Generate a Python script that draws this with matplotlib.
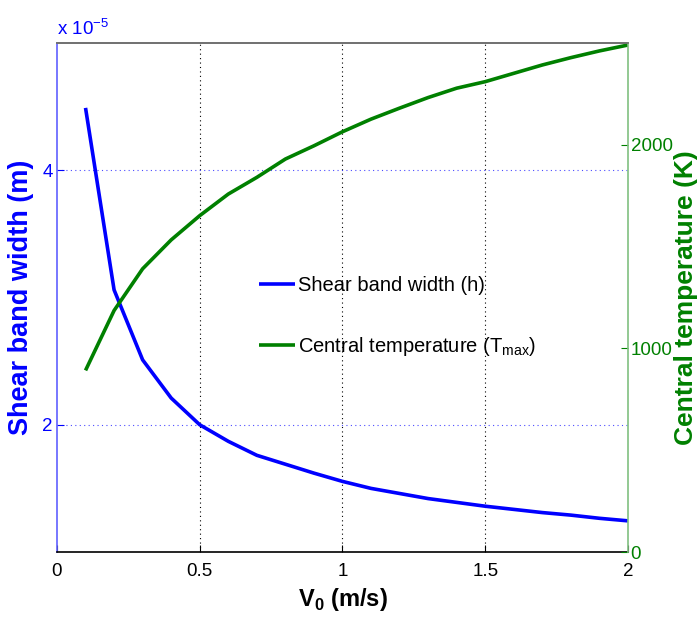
import numpy as np
import matplotlib.pyplot as plt

plt.rcParams['font.family'] = ['Liberation Sans', 'DejaVu Sans']
plt.rcParams['mathtext.fontset'] = 'custom'
plt.rcParams['mathtext.rm'] = 'Liberation Sans'
plt.rcParams['mathtext.bf'] = 'Liberation Sans:bold'

# impact velocity (m/s)
v0 = [0.1, 0.2, 0.3, 0.4, 0.5, 0.6, 0.7, 0.8, 0.9, 1.0,
      1.1, 1.2, 1.3, 1.4, 1.5, 1.6, 1.7, 1.8, 1.9, 2.0]
# shear band width (m)
h = [4.49e-5, 3.06e-5, 2.51e-5, 2.21e-5, 2.00e-5, 1.87e-5, 1.76e-5, 1.69e-5, 1.62e-5, 1.555e-5,
     1.50e-5, 1.46e-5, 1.42e-5, 1.39e-5, 1.36e-5, 1.335e-5, 1.31e-5, 1.29e-5, 1.265e-5, 1.245e-5]
# central temperature (K)
tmax = [892, 1186, 1391, 1533, 1652, 1758, 1840, 1930, 1995, 2064,
        2126, 2180, 2232, 2278, 2310, 2351, 2392, 2428, 2461, 2490]

h_ticks = [2, 4]
t_ticks = [0, 1000, 2000]
x_ticks = [0, 0.5, 1, 1.5, 2]

blue = '#0000ff'
green = '#008000'

fig = plt.figure(figsize=(7, 6.22), dpi=100)
ax1 = fig.add_axes([0.0814, 0.1125, 0.8157, 0.8184])
ax2 = ax1.twinx()

h_scaled = np.array(h) / 1e-5
l1, = ax1.plot(v0, h_scaled, color=blue, lw=2.6, solid_capstyle='butt')
l2, = ax2.plot(v0, tmax, color=green, lw=2.6, solid_capstyle='butt')

ax1.set_xlim(0, 2)
ax1.set_ylim(1, 5)
ax2.set_ylim(0, 2500)

ax1.set_xticks(x_ticks)
ax1.set_xticklabels(['0', '0.5', '1', '1.5', '2'])
ax1.set_yticks(h_ticks)
ax2.set_yticks(t_ticks)

# dotted grid: black verticals, blue horizontals
for xv in x_ticks[1:-1]:
    ax1.axvline(xv, color='black', ls=(0, (1, 3)), lw=0.8, zorder=0)
for yv in h_ticks:
    ax1.axhline(yv, color=blue, ls=(0, (1, 3)), lw=0.8, alpha=0.7, zorder=0)

ax1.tick_params(axis='x', direction='in', length=5, labelsize=13.5, colors='black', pad=8)
ax1.tick_params(axis='y', direction='in', length=5, labelsize=13.5, colors=blue, pad=3)
ax2.tick_params(axis='y', direction='in', length=5, labelsize=13.5, colors=green, pad=2)

ax1.spines['left'].set_color('#6060ff')
ax1.spines['bottom'].set_color('black')
ax1.spines['top'].set_color('#707070')
ax1.spines['right'].set_visible(False)
ax2.spines['left'].set_visible(False)
ax2.spines['bottom'].set_visible(False)
ax2.spines['top'].set_color('#707070')
ax2.spines['right'].set_color('#80c080')
for sp in list(ax1.spines.values()) + list(ax2.spines.values()):
    sp.set_linewidth(1.2)

ax1.set_xlabel(r'V$_\mathbf{0}$ (m/s)', fontsize=17, fontweight='bold', labelpad=4)
ax1.set_ylabel('Shear band width (m)', fontsize=19.5, fontweight='bold', color=blue, labelpad=6)
ax2.set_ylabel('Central temperature (K)', fontsize=19, fontweight='bold', color=green, labelpad=1)

ax1.text(0.0, 1.008, r'x 10$^{-5}$', transform=ax1.transAxes, fontsize=13.5,
         color=blue, ha='left', va='bottom')

leg = ax2.legend([l1, l2], ['Shear band width (h)', r'Central temperature (T$_{\rm max}$)'],
                 loc='upper left', bbox_to_anchor=(0.34, 0.558), frameon=False,
                 fontsize=14.5, handlelength=1.8, handletextpad=0.15, labelspacing=2.0,
                 borderaxespad=0)

fig.savefig('out.png', dpi=100)
